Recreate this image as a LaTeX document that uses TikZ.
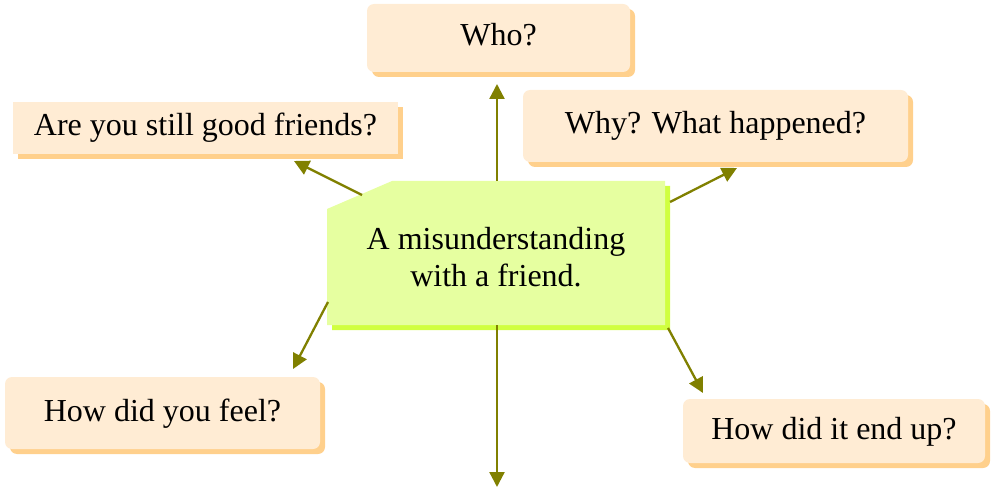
\documentclass[tikz,border=0pt]{standalone}
\usepackage{fontspec}
\setmainfont{Liberation Serif}
\usetikzlibrary{shadows,arrows.meta}
\definecolor{pfill}{RGB}{255,236,212}
\definecolor{pshadow}{RGB}{255,208,140}
\definecolor{gfill}{RGB}{230,255,160}
\definecolor{gshadow}{RGB}{208,255,64}
\definecolor{olive}{RGB}{128,128,0}
\tikzset{
  qbox/.style={fill=pfill, draw=none, minimum height=72pt, text height=23pt, text depth=7pt,
    font=\fontsize{32}{37}\selectfont, inner sep=0pt,
    drop shadow={shadow xshift=5pt, shadow yshift=-5pt, fill=pshadow, opacity=1}},
  rbox/.style={qbox, rounded corners=7pt},
  arr/.style={draw=olive, line width=2.3pt, -{Triangle[length=15pt,width=15pt]}},
}
\begin{document}
\begin{tikzpicture}[x=1pt,y=-1pt]
\useasboundingbox (0,0) rectangle (991,489);
% center shape
\fill[gshadow] (332,214) -- (397,186) -- (670,186) -- (670,330) -- (332,330) -- cycle;
\fill[gfill] (327,209) -- (392,181) -- (665,181) -- (665,325) -- (327,325) -- cycle;
\node[minimum width=338pt, minimum height=144pt, inner sep=0pt] (c) at (496,253) {};
\node[align=center, font=\fontsize{32}{37}\selectfont, anchor=base] (ct) at (496,287) {A misunderstanding\\with a friend.};
% question boxes
\node[rbox, minimum width=263pt, minimum height=68pt] (who) at (498.5,38) {Who?};
\node[qbox, minimum width=385pt, minimum height=52pt] (still) at (205.5,128) {Are you still good friends?};
\node[rbox, minimum width=385pt, minimum height=72pt] (why) at (715.5,126) {Why? What happened?};
\node[rbox, minimum width=315pt, minimum height=72pt] (feel) at (162.5,413) {How did you feel?};
\node[rbox, minimum width=302pt, minimum height=64pt] (end) at (834,431) {How did it end up?};
% connector end points
\coordinate (s1) at (497,181); \coordinate (e1) at (497,84);
\coordinate (s2) at (362,195); \coordinate (e2) at (294,161);
\coordinate (s3) at (670,202); \coordinate (e3) at (737,168);
\coordinate (s4) at (328,302); \coordinate (e4) at (293,369);
\coordinate (s5) at (668,328); \coordinate (e5) at (703,393);
\coordinate (s6) at (497,325); \coordinate (e6) at (497,487);
\draw[arr] (s1) -- (e1);
\draw[arr] (s2) -- (e2);
\draw[arr] (s3) -- (e3);
\draw[arr] (s4) -- (e4);
\draw[arr] (s5) -- (e5);
\draw[arr] (s6) -- (e6);
\end{tikzpicture}
\end{document}
